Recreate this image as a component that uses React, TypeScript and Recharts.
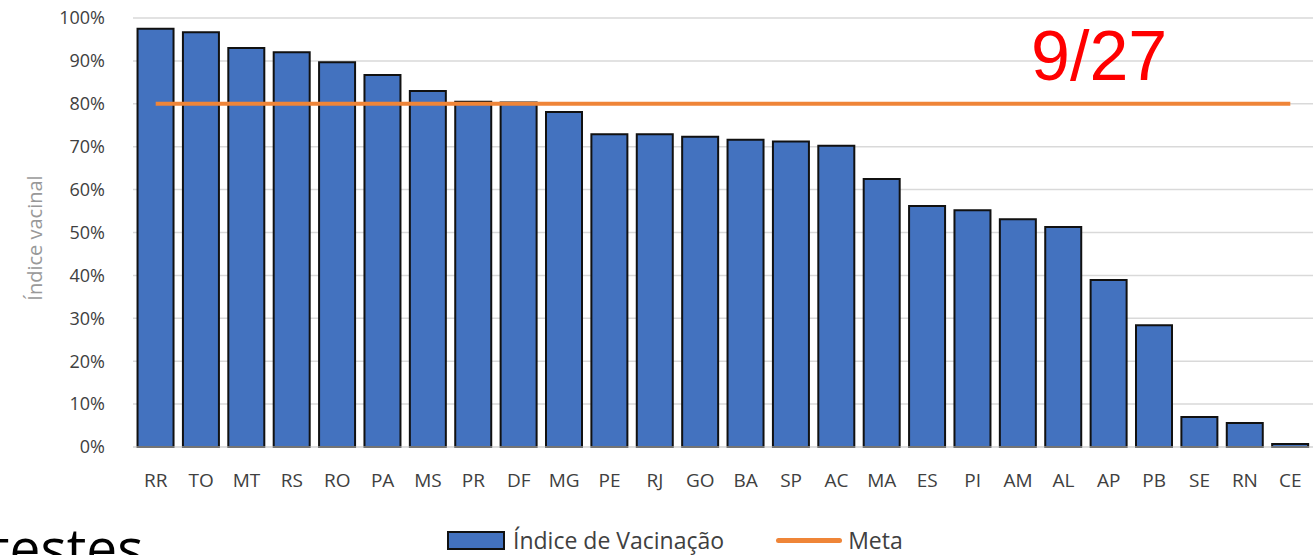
import React from 'react';
import { ComposedChart, Bar, Line, XAxis, YAxis, CartesianGrid, Legend } from 'recharts';

// states ordered as in the original figure
const states = ['RR', 'TO', 'MT', 'RS', 'RO', 'PA', 'MS', 'PR', 'DF', 'MG', 'PE', 'RJ', 'GO', 'BA', 'SP', 'AC', 'MA', 'ES', 'PI', 'AM', 'AL', 'AP', 'PB', 'SE', 'RN', 'CE'];
const vacinacao = [97.5, 96.7, 93, 92, 89.7, 86.7, 83, 80.5, 80.3, 78.1, 72.9, 72.9, 72.3, 71.6, 71.2, 70.2, 62.5, 56.2, 55.2, 53.1, 51.3, 38.9, 28.4, 7.0, 5.6, 0.7];
const meta = states.map(() => 80);
const yTicks = [0, 10, 20, 30, 40, 50, 60, 70, 80, 90, 100];

const BLUE = '#4372bf';
const ORANGE = '#ef8538';
const TEXT = '#404040';
const FONT = '"Open Sans", sans-serif';

const data = states.map((s, i) => ({ uf: s, vac: vacinacao[i], meta: meta[i] }));

const LegendBox = () => (
  <div style={{ display: 'flex', alignItems: 'center', paddingTop: 27, paddingLeft: 447, fontFamily: FONT, fontSize: 23, color: TEXT }}>
    <span style={{ display: 'inline-block', width: 54, height: 15, background: BLUE, border: '2px solid #111', marginRight: 8 }} />
    <span>Índice de Vacinação</span>
    <span style={{ display: 'inline-block', width: 66, height: 5, background: ORANGE, borderRadius: 3, marginLeft: 52, marginRight: 6 }} />
    <span>Meta</span>
  </div>
);

export default function App() {
  return (
    <div style={{ position: 'absolute', left: 0, top: 0, width: 1316, height: 555, overflow: 'hidden', background: '#fff' }}>
      <ComposedChart width={1316} height={555} data={data} margin={{ top: 18, right: 3, left: 0, bottom: 0 }} barCategoryGap="10%">
        <CartesianGrid vertical={false} stroke="#d9d9d9" strokeWidth={1.5} />
        <XAxis dataKey="uf" height={50} tickLine={false} tickSize={0} tickMargin={27} axisLine={{ stroke: '#d9d9d9' }} interval={0}
          tick={{ fill: TEXT, fontSize: 19, fontFamily: FONT }} />
        <YAxis width={133} domain={[0, 100]} ticks={yTicks} tickFormatter={(v) => `${v}%`} axisLine={false} tickLine={false} tickSize={0} tickMargin={28}
          tick={{ fill: TEXT, fontSize: 18, fontFamily: FONT }} />
        <Legend verticalAlign="bottom" height={58} content={<LegendBox />} />
        <Bar dataKey="vac" name="Índice de Vacinação" fill={BLUE} stroke="#111" strokeWidth={2} isAnimationActive={false} />
        <Line dataKey="meta" name="Meta" stroke={ORANGE} strokeWidth={4} dot={false} isAnimationActive={false} />
      </ComposedChart>
      <div style={{ position: 'absolute', left: 35, top: 238, width: 0, height: 0 }}>
        <div style={{ position: 'absolute', left: -100, top: -13, width: 200, textAlign: 'center', transform: 'rotate(-90deg)', color: '#999', fontFamily: FONT, fontSize: 20, lineHeight: '26px' }}>
          Índice vacinal
        </div>
      </div>
      <div style={{ position: 'absolute', left: 1031, top: 21, color: '#ff0000', fontFamily: '"Liberation Sans", sans-serif', fontSize: 70, lineHeight: 1 }}>9/27</div>
      <div style={{ position: 'absolute', left: -10, top: 519, color: '#000', fontFamily: FONT, fontSize: 55, lineHeight: 1 }}>testes</div>
    </div>
  );
}
